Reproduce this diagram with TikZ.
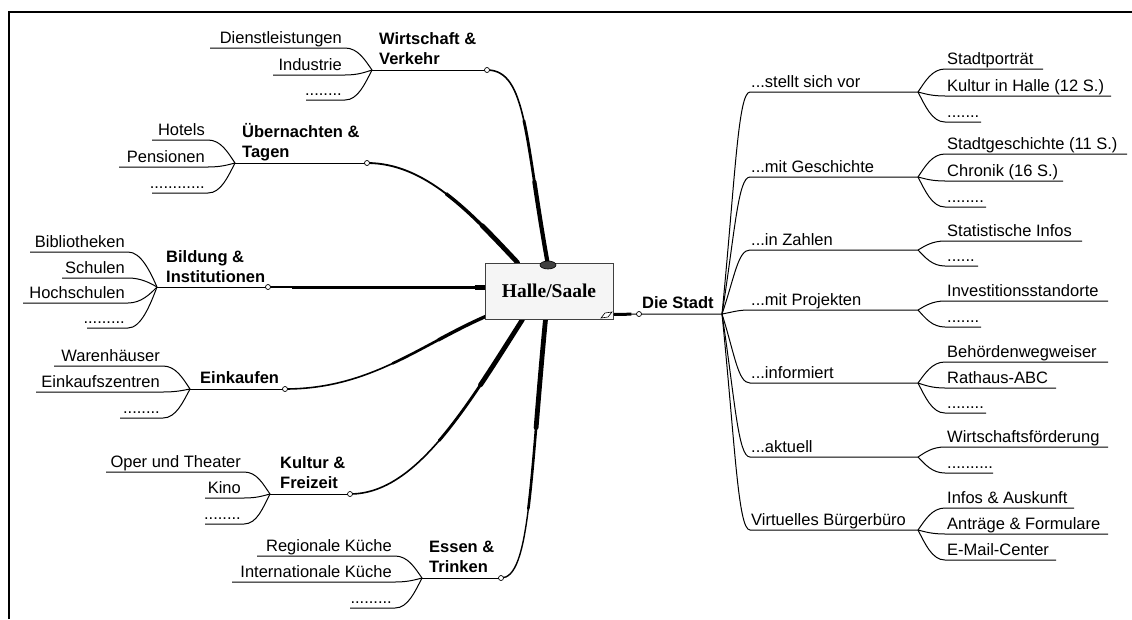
\documentclass[tikz,border=0pt]{standalone}
\usepackage{fontspec}
\setmainfont{Liberation Sans}
\newfontfamily\hallefont{Liberation Serif}
\usetikzlibrary{calc,shapes.geometric}
\pgfdeclarelayer{background}
\pgfsetlayers{background,main}

\tikzset{
  kid/.style={inner sep=0pt, font=\fontsize{16.5}{19.5}\selectfont},
  topic/.style={inner sep=0pt, font=\fontsize{16.5}{19.5}\selectfont\bfseries},
  twig/.style={line width=1pt, black},
  knot/.style={circle, draw, fill=white, line width=0.7pt, inner sep=0pt, minimum size=5pt},
  centre/.style={draw=black!75, fill=black!4, line width=1pt, inner sep=0pt,
    minimum width=128pt, minimum height=56pt,
    font=\hallefont\fontsize{19.5}{22}\selectfont\bfseries},
}

% two-line bold label, baseline on the last line
\newcommand{\twoline}[2]{\begin{tabular}[b]{@{}l@{}}#1\\#2\end{tabular}}

% de Casteljau split of a cubic at t=1/2
\newcommand{\csplit}[5]{%
  \coordinate (#1q0) at ($(#2)!0.5!(#3)$);
  \coordinate (#1q1) at ($(#3)!0.5!(#4)$);
  \coordinate (#1q2) at ($(#4)!0.5!(#5)$);
  \coordinate (#1r0) at ($(#1q0)!0.5!(#1q1)$);
  \coordinate (#1r1) at ($(#1q1)!0.5!(#1q2)$);
  \coordinate (#1s) at ($(#1r0)!0.5!(#1r1)$);
}
% cubic drawn in three pieces that get thicker towards the end
\newcommand{\taper}[8]{%
  \csplit{#1a}{#2}{#3}{#4}{#5}%
  \csplit{#1b}{#1as}{#1ar1}{#1aq2}{#5}%
  \draw[line width=#6, line cap=round] (#2) .. controls (#1aq0) and (#1ar0) .. (#1as);
  \draw[line width=#7, line cap=round] (#1as) .. controls (#1bq0) and (#1br0) .. (#1bs);
  \draw[line width=#8, line cap=round] (#1bs) .. controls (#1br1) and (#1bq2) .. (#5);
}
% left leaf: name, hub, y, left x, right x, text
\newcommand{\lkid}[6]{%
  \coordinate (#1-a) at (#4,#3);
  \coordinate (#1-b) at (#5,#3);
  \coordinate (#1-h) at (#2 |- #1-b);
  \node[kid, anchor=base east] (#1) at ($(#1-b)+(-3,-5)$) {#6};
  \draw[twig] (#1-a) -- (#1-b) .. controls ($(#1-b)+(13,0)$) and ($(#2)!0.45!(#1-h)+(-7,0)$) .. (#2);
}
% right branch: name, y, text
\newcommand{\rbranch}[3]{%
  \coordinate (#1-s) at (750,#2);
  \coordinate (#1) at (918,#2);
  \coordinate (#1-h) at (R |- #1-s);
  \node[kid, anchor=base west] (#1-t) at ($(#1-s)+(1,-5)$) {#3};
  \draw[twig] (R) .. controls ($(R)!0.6!(#1-h)+(13,0)$) and ($(#1-s)+(-12,0)$) .. (#1-s) -- (#1);
}
% right leaf: name, branch hub, y, right x, text
\newcommand{\rkid}[5]{%
  \coordinate (#1-a) at (945,#3);
  \coordinate (#1-b) at (#4,#3);
  \coordinate (#1-h) at (#2 |- #1-a);
  \node[kid, anchor=base west] (#1) at ($(#1-a)+(2,-5)$) {#5};
  \draw[twig] (#2) .. controls ($(#2)!0.45!(#1-h)+(7,0)$) and ($(#1-a)+(-13,0)$) .. (#1-a) -- (#1-b);
}

\begin{document}
\begin{tikzpicture}[x=1pt,y=-1pt]
\useasboundingbox (0,0) rectangle (1132,619);

% frame
\draw[line width=2pt] (9,619) -- (9,12) -- (1132,12);

% centre
\node[centre] (box) at (549,291) {Halle/Saale};
\node[ellipse, fill=black!75, draw=black, line width=0.6pt, minimum width=16pt, minimum height=8pt, inner sep=0pt] (cap) at (548,265) {};
\draw[line width=0.6pt, fill=white] (601,318) -- (605,313) -- (612,312) -- (608,317) -- cycle;

% hubs and knots
\coordinate (hW) at (372,70);  \coordinate (kW) at (487,70);
\coordinate (hU) at (235,163); \coordinate (kU) at (367,163);
\coordinate (hB) at (157,287); \coordinate (kB) at (268,287);
\coordinate (hE) at (190,389); \coordinate (kE) at (285,389);
\coordinate (hK) at (270,494); \coordinate (kK) at (350,494);
\coordinate (hS) at (422,578); \coordinate (kS) at (501,578);
\coordinate (kD) at (639,314); \coordinate (R) at (722,314);

\coordinate (eU) at ($(box.north west)+(33,0)$);
\coordinate (eB) at ($(box.west)+(0,-4)$);
\coordinate (eE) at ($(box.south west)+(1,-3)$);
\coordinate (eK) at ($(box.south west)+(38,0)$);
\coordinate (eS) at ($(box.south west)+(61,0)$);
\coordinate (eD) at ($(box.south east)+(0,-5)$);

% thick connectors to the centre
\begin{pgfonlayer}{background}
  \taper{W}{kW}{527,70}{525,140}{cap.center}{1.6}{2.8}{4.2}
  \taper{U}{kU}{425,163}{470,212}{eU}{1.8}{3.4}{4.8}
  \draw[line width=1.4pt] (kB) -- ($(kB)+(24,0)$);
  \draw[line width=3pt] ($(kB)+(24,0)$) -- ($(eB)+(-10,0)$);
  \draw[line width=5pt] ($(eB)+(-10,0)$) -- (eB);
  \taper{E}{kE}{370,389}{420,345}{eE}{1.6}{2.6}{3.4}
  \taper{K}{kK}{415,494}{465,410}{eK}{1.6}{2.8}{4.8}
  \taper{S}{kS}{530,578}{530,480}{eS}{1.4}{2.6}{4.8}
  \draw[line width=3pt] (eD) -- ($(eD)!0.7!(kD)$);
\end{pgfonlayer}

% left topics
\draw[twig] (hW) -- (kW);
\draw[twig] (hU) -- (kU);
\draw[twig] (hB) -- (kB);
\draw[twig] (hE) -- (kE);
\draw[twig] (hK) -- (kK);
\draw[twig] (hS) -- (kS);
\node[topic, anchor=base west] (tW) at ($(hW)+(7,-6)$) {\twoline{Wirtschaft \&}{Verkehr}};
\node[topic, anchor=base west] (tU) at ($(hU)+(7,-6)$) {\twoline{Übernachten \&}{Tagen}};
\node[topic, anchor=base west] (tB) at ($(hB)+(9,-5)$) {\twoline{Bildung \&}{Institutionen}};
\node[topic, anchor=base west] (tE) at ($(hE)+(10,-6)$) {Einkaufen};
\node[topic, anchor=base west] (tK) at ($(hK)+(10,-6)$) {\twoline{Kultur \&}{Freizeit}};
\node[topic, anchor=base west] (tS) at ($(hS)+(7,-6)$) {\twoline{Essen \&}{Trinken}};

\lkid{w1}{hW}{48}{210}{345}{Dienstleistungen}
\lkid{w2}{hW}{75}{273}{345}{Industrie}
\lkid{w3}{hW}{100}{306}{345}{........}

\lkid{u1}{hU}{140}{152}{208}{Hotels}
\lkid{u2}{hU}{167}{119}{208}{Pensionen}
\lkid{u3}{hU}{193}{152}{208}{............}

\lkid{b1}{hB}{252}{30}{128}{Bibliotheken}
\lkid{b2}{hB}{278}{62}{128}{Schulen}
\lkid{b3}{hB}{303}{23}{128}{Hochschulen}
\lkid{b4}{hB}{328}{87}{128}{.........}

\lkid{e1}{hE}{366}{54}{163}{Warenhäuser}
\lkid{e2}{hE}{392}{36}{163}{Einkaufszentren}
\lkid{e3}{hE}{418}{120}{163}{........}

\lkid{k1}{hK}{472}{106}{244}{Oper und Theater}
\lkid{k2}{hK}{498}{205}{244}{Kino}
\lkid{k3}{hK}{524}{205}{244}{........}

\lkid{s1}{hS}{556}{257}{395}{Regionale Küche}
\lkid{s2}{hS}{582}{232}{395}{Internationale Küche}
\lkid{s3}{hS}{608}{350}{395}{.........}

% right side
\draw[twig] (eD) -- (kD) -- (R);
\node[topic, anchor=base west] (tD) at (642,308) {Die Stadt};

\rbranch{r1}{92}{...stellt sich vor}
\rkid{r11}{r1}{69}{1043}{Stadtporträt}
\rkid{r12}{r1}{96}{1111}{Kultur in Halle (12 S.)}
\rkid{r13}{r1}{122}{981}{.......}

\rbranch{r2}{177}{...mit Geschichte}
\rkid{r21}{r2}{154}{1127}{Stadtgeschichte (11 S.)}
\rkid{r22}{r2}{181}{1063}{Chronik (16 S.)}
\rkid{r23}{r2}{207}{986}{........}

\rbranch{r3}{250}{...in Zahlen}
\rkid{r31}{r3}{241}{1082}{Statistische Infos}
\rkid{r32}{r3}{266}{978}{......}

\rbranch{r4}{310}{...mit Projekten}
\rkid{r41}{r4}{301}{1108}{Investitionsstandorte}
\rkid{r42}{r4}{327}{981}{.......}

\rbranch{r5}{383}{...informiert}
\rkid{r51}{r5}{362}{1108}{Behördenwegweiser}
\rkid{r52}{r5}{388}{1056}{Rathaus-ABC}
\rkid{r53}{r5}{413}{986}{........}

\rbranch{r6}{457}{...aktuell}
\rkid{r61}{r6}{447}{1108}{Wirtschaftsförderung}
\rkid{r62}{r6}{473}{993}{..........}

\rbranch{r7}{530}{Virtuelles Bürgerbüro}
\rkid{r71}{r7}{508}{1074}{Infos \& Auskunft}
\rkid{r72}{r7}{534}{1108}{Anträge \& Formulare}
\rkid{r73}{r7}{560}{1056}{E-Mail-Center}

% knots on the topic lines
\node[knot] (nW) at (kW) {};
\node[knot] (nU) at (kU) {};
\node[knot] (nB) at (kB) {};
\node[knot] (nE) at (kE) {};
\node[knot] (nK) at (kK) {};
\node[knot] (nS) at (kS) {};
\node[knot] (nD) at (kD) {};
\end{tikzpicture}
\end{document}
